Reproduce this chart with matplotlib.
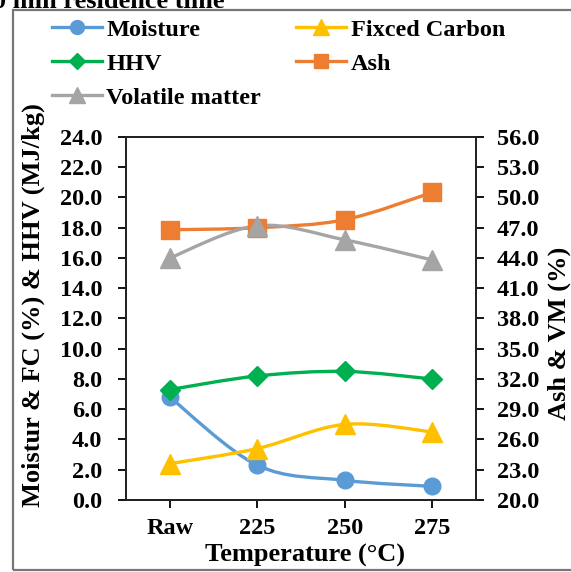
import matplotlib
matplotlib.use("Agg")
import matplotlib.pyplot as plt
import numpy as np
from matplotlib.path import Path
from matplotlib.patches import PathPatch, Rectangle
from matplotlib.lines import Line2D

plt.rcParams['font.family'] = ['Liberation Serif', 'DejaVu Serif']
plt.rcParams['font.weight'] = 'bold'

categories = ["Raw", "225", "250", "275"]
moisture = [6.8, 2.3, 1.3, 0.9]
fixed_carbon = [2.4, 3.4, 5.0, 4.5]
hhv = [7.3, 8.2, 8.5, 8.0]
ash = [46.8, 47.0, 47.8, 50.5]
volatile = [44.0, 47.2, 45.8, 43.8]

left_ticks = [0, 2, 4, 6, 8, 10, 12, 14, 16, 18, 20, 22, 24]
right_ticks = [20, 23, 26, 29, 32, 35, 38, 41, 44, 47, 50, 53, 56]

C_MOIST = '#5B9BD5'
C_FC = '#FFC000'
C_HHV = '#00B050'
C_ASH = '#ED7D31'
C_VM = '#A5A5A5'


def smooth_path(xs, ys):
    P = np.column_stack([xs, ys]).astype(float)
    n = len(P)
    verts = [P[0]]
    codes = [Path.MOVETO]
    for i in range(n - 1):
        p0 = P[i - 1] if i > 0 else P[i]
        p1 = P[i]
        p2 = P[i + 1]
        p3 = P[i + 2] if i + 2 < n else P[i + 1]
        c1 = p1 + (p2 - p0) / 6.0
        c2 = p2 - (p3 - p1) / 6.0
        verts += [c1, c2, p2]
        codes += [Path.CURVE4] * 3
    return Path(verts, codes)


fig = plt.figure(figsize=(5.71, 5.72), dpi=100)
ax = fig.add_axes([0.2207, 0.1259, 0.6130, 0.6346])
ax2 = ax.twinx()

x = np.arange(len(categories))
lw = 2.4

def draw(a, ys, color, marker, ms):
    a.add_patch(PathPatch(smooth_path(x, ys), facecolor='none', edgecolor=color,
                          lw=lw, zorder=2))
    a.plot(x, ys, linestyle='none', marker=marker, ms=ms, color=color,
           markeredgecolor=color, zorder=3)

draw(ax, moisture, C_MOIST, 'o', 12)
draw(ax, fixed_carbon, C_FC, '^', 14)
draw(ax, hhv, C_HHV, 'D', 10.5)
draw(ax2, ash, C_ASH, 's', 12.5)
draw(ax2, volatile, C_VM, '^', 14)

ax.set_xlim(-0.5, 3.5)
ax.set_ylim(0, 24)
ax2.set_ylim(20, 56)
ax.set_yticks(left_ticks)
ax.set_yticklabels([f"{v:.1f}" for v in left_ticks])
ax2.set_yticks(right_ticks)
ax2.set_yticklabels([f"{v:.1f}" for v in right_ticks])
ax.set_xticks(x)
ax.set_xticklabels(categories)

for a in (ax, ax2):
    a.tick_params(axis='both', direction='out', length=6, width=1.3,
                  labelsize=17.5, colors='black', pad=9)
    for s in a.spines.values():
        s.set_linewidth(1.3)
        s.set_color('#222222')
ax.tick_params(axis='x', pad=7)
ax.tick_params(axis='y', pad=11)

fig.text(0.535, 1 - 555 / 572, "Temperature (°C)",
         ha='center', va='center', fontsize=19, fontweight='bold')
fig.text(0.058, 0.467, "Moistur & FC (%) & HHV (MJ/kg)", rotation=90,
         ha='center', va='center', fontsize=19, fontweight='bold')
fig.text(0.979, 0.418, "Ash & VM (%)", rotation=90,
         ha='center', va='center', fontsize=19, fontweight='bold')

handles = [
    Line2D([], [], color=C_MOIST, lw=lw, marker='o', ms=10),
    Line2D([], [], color=C_HHV, lw=lw, marker='D', ms=8),
    Line2D([], [], color=C_VM, lw=lw, marker='^', ms=11),
    Line2D([], [], color=C_FC, lw=lw, marker='^', ms=11),
    Line2D([], [], color=C_ASH, lw=lw, marker='s', ms=10),
]
labels = ["Moisture", "HHV", "Volatile matter", "Fixced Carbon", "Ash"]
leg = fig.legend(handles, labels, ncol=2, loc='upper left',
                 bbox_to_anchor=(0.085, 0.974), frameon=True, framealpha=1,
                 facecolor='white', edgecolor='none', fontsize=17.5,
                 handlelength=2.05, handletextpad=0.18, columnspacing=1.45,
                 labelspacing=0.5, borderpad=0.15, borderaxespad=0)
for t in leg.get_texts():
    t.set_fontweight('bold')

fig.text(-0.012, 1.0 - 8 / 572, "0 min residence time", ha='left', va='baseline',
         fontsize=19, fontweight='bold')

fig.patches.append(Rectangle((12.5 / 571, 2 / 572), 1.2, 1 - 12 / 572,
                             transform=fig.transFigure, fill=False,
                             edgecolor='#777777', lw=1.6, zorder=10))

fig.savefig("out.png", dpi=100)
